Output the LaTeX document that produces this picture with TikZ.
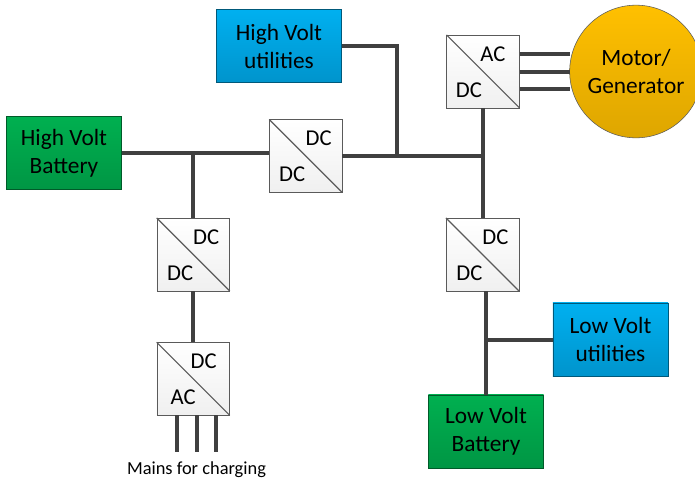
\documentclass[tikz,border=0pt]{standalone}
\usepackage{fontspec}
\setmainfont{Carlito}
\usetikzlibrary{calc}
\definecolor{busGray}{RGB}{64,64,64}
\definecolor{edgeGray}{RGB}{90,90,90}
\definecolor{battTop}{RGB}{0,176,80}
\definecolor{battBot}{RGB}{0,150,68}
\definecolor{utilTop}{RGB}{0,176,240}
\definecolor{utilBot}{RGB}{0,148,204}
\definecolor{motorTop}{RGB}{255,192,0}
\definecolor{motorBot}{RGB}{222,166,0}
\tikzset{
  battbox/.style={draw=battBot!60!black,top color=battTop,bottom color=battBot,
    minimum width=86.5pt,minimum height=55pt,inner sep=0pt,align=center,font=\fontsize{17.5}{21}\selectfont},
  utilbox/.style={draw=utilBot!60!black,top color=utilTop,bottom color=utilBot,
    minimum width=86.5pt,minimum height=55pt,inner sep=0pt,align=center,font=\fontsize{17.5}{21}\selectfont},
  convbox/.style={draw=edgeGray,top color=white,bottom color=black!6,
    minimum width=54.5pt,minimum height=54.5pt,inner sep=0pt},
  convlabel/.style={font=\fontsize{17}{18}\selectfont,inner sep=0pt},
  bus/.style={draw=busGray,line width=3pt},
}
\begin{document}
\begin{tikzpicture}[x=0.75pt,y=-0.75pt]
  \useasboundingbox (0,0) rectangle (695,479);
  % sources and loads
  \node[battbox] (hvbatt) at (64,153) {High Volt\\Battery};
  \node[utilbox,minimum width=94pt] (hvutil) at (279,46) {High Volt\\utilities};
  \node[utilbox] (lvutil) at (610.5,339.5) {Low Volt\\utilities};
  \node[battbox] (lvbatt) at (486,431.5) {Low Volt\\Battery};
  \node[draw=edgeGray,circle,top color=motorTop,bottom color=motorBot,
    minimum size=99.5pt,inner sep=0pt,align=center,font=\fontsize{17.5}{21}\selectfont]
    (motor) at (636,71.5) {Motor/\\Generator};
  % converters
  \foreach \n/\x/\y/\tl/\tx/\bl/\bx in {convhv/305.75/156/DC/13/DC/-13.5,
      convmotor/483/71.5/AC/10/DC/-14,
      convcharge/193.25/254.5/DC/13/DC/-13,
      convmains/193.25/378.75/DC/10.5/AC/-10,
      convlv/482.5/254.5/DC/13/DC/-13} {
    \node[convbox] (\n) at (\x,\y) {};
    \draw[edgeGray,thick] (\n.north west) -- (\n.south east);
    \node[convlabel] (\n top) at ($(\n.center)+(\tx,-17.5)$) {\tl};
    \node[convlabel] (\n bot) at ($(\n.center)+(\bx,18.5)$) {\bl};
  }
  % busbars
  \coordinate (hvtap) at (hvbatt.east -| convcharge.north);
  \coordinate (dcbus) at (convhv.east -| convmotor.south);
  \coordinate (hvtie) at (397,156);
  \coordinate (lvtop) at (485.5,254.5);
  \coordinate (lvtap) at (lvutil.west -| lvtop);
  \draw[bus] (hvbatt.east) -- (hvbatt.east -| convhv.west);
  \draw[bus] (hvtap) -- (convcharge.north);
  \draw[bus] (convcharge.south) -- (convmains.north);
  \draw[bus] (convhv.east) -- (dcbus);
  \draw[bus] (hvutil.east) -| (hvtie);
  \draw[bus] (convmotor.south) -- (convmotor.south |- convlv.north);
  \draw[bus] (lvtop |- convlv.south) -- (lvtop |- lvbatt.north);
  \draw[bus] (lvtap) -- (lvutil.west);
  % three phase links
  \foreach \y in {54,71.5,88.5}
    \draw[bus] (convmotor.east |- 0,\y) -- (570,\y);
  \node[font=\fontsize{13.8}{16}\selectfont,inner sep=0pt] (mains) at (196.5,469.5) {Mains for charging};
  \foreach \x in {177,196.5,216}
    \draw[bus] (convmains.south -| \x,0) -- (\x,452);
\end{tikzpicture}
\end{document}
